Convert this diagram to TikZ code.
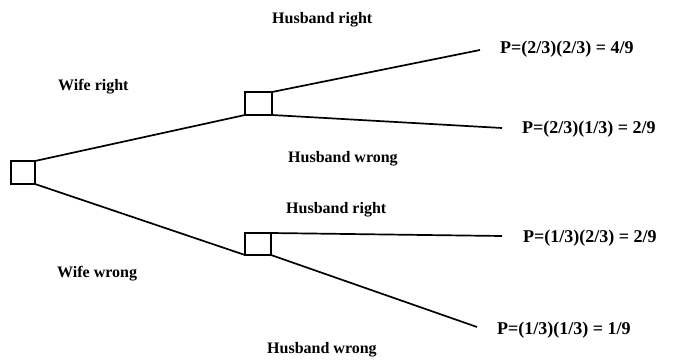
\documentclass[tikz,border=0pt]{standalone}
\usepackage{fontspec}
\setmainfont{Liberation Serif}
\begin{document}
\begin{tikzpicture}[x=1pt,y=-1pt,
 boxn/.style={draw, line width=1.8pt, inner sep=0pt, outer sep=0pt},
 branch/.style={line width=1.7pt},
 lbl/.style={anchor=west, inner sep=0pt, font=\bfseries\fontsize{16}{18}\selectfont},
 prob/.style={anchor=west, inner sep=0pt, font=\bfseries\fontsize{18}{20}\selectfont}]
\useasboundingbox (0,0) rectangle (676,361);
% boxes
\node[boxn, minimum width=24pt, minimum height=23pt] (root) at (23,172.5) {};
\node[boxn, minimum width=27pt, minimum height=23pt] (up) at (258.5,103.5) {};
\node[boxn, minimum width=26pt, minimum height=22pt] (lo) at (258,244) {};
% branch ends
\coordinate (e1) at (480,50);
\coordinate (e2) at (502,128);
\coordinate (e3) at (502,236);
\coordinate (e4) at (477,327);
% connectors
\draw[branch] (root.north east) -- (up.south west);
\draw[branch] (root.south east) -- (lo.south west);
\draw[branch] (up.north east) -- (e1);
\draw[branch] (up.south east) -- (e2);
\draw[branch] (lo.north east) -- (e3);
\draw[branch] (lo.south east) -- (e4);
% labels
\node[lbl] (wr) at (58,87) {Wife right};
\node[lbl] (ww) at (57,274) {Wife wrong};
\node[lbl] (hr1) at (272,20) {Husband right};
\node[lbl] (hw1) at (288,159) {Husband wrong};
\node[lbl] (hr2) at (286,210) {Husband right};
\node[lbl] (hw2) at (267,350) {Husband wrong};
% probabilities
\node[prob] (p1) at (500,49) {P=(2/3)(2/3) = 4/9};
\node[prob] (p2) at (522,129) {P=(2/3)(1/3) = 2/9};
\node[prob] (p3) at (523,238) {P=(1/3)(2/3) = 2/9};
\node[prob] (p4) at (497,330) {P=(1/3)(1/3) = 1/9};
\end{tikzpicture}
\end{document}
